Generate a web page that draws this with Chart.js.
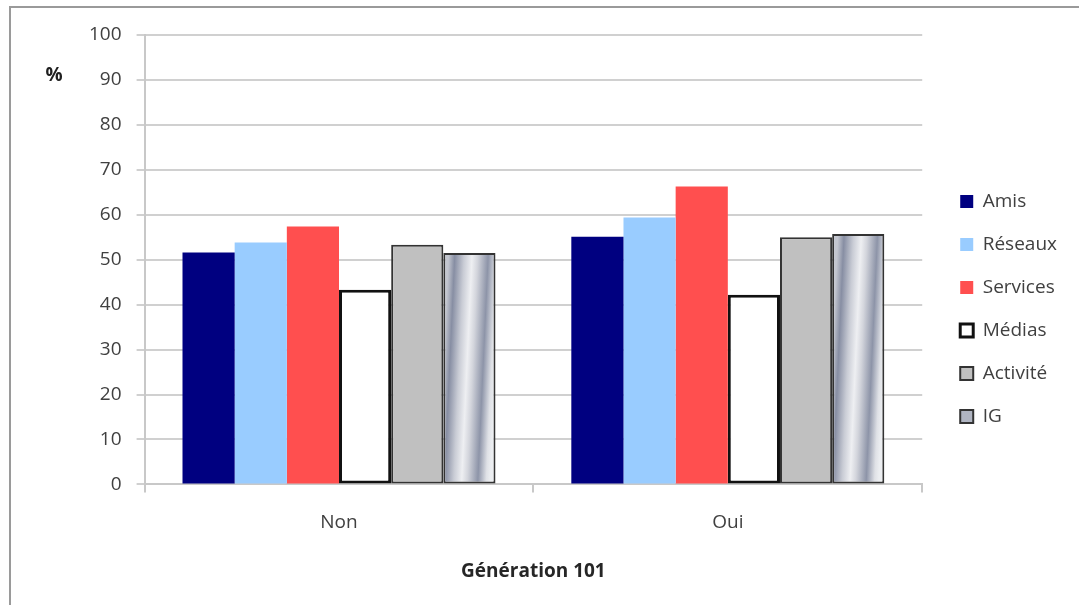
<!DOCTYPE html>
<html lang="fr">
<head>
<meta charset="utf-8">
<title>Génération 101</title>
<script src="https://cdn.jsdelivr.net/npm/chart.js@4.4.1/dist/chart.umd.min.js"></script>
<style>
  html, body { margin: 0; padding: 0; background: #fff; overflow: hidden; }
  #wrap { position: relative; width: 1079px; height: 605px; }
  #frame { position: absolute; left: 9px; top: 6px; width: 1200px; height: 800px;
           border: 2px solid #9a9a9a; box-sizing: border-box; pointer-events: none; }
  canvas { position: absolute; left: 0; top: 0; }
</style>
</head>
<body>
<div id="wrap">
  <canvas id="chart" width="1079" height="605"></canvas>
  <div id="frame"></div>
</div>
<script>
// Catégories et séries (en %)
const categories = ['Non', 'Oui'];
const seriesNames = ['Amis', 'Réseaux', 'Services', 'Médias', 'Activité', 'IG'];
const amis     = [51.6, 55.1];
const reseaux  = [53.8, 59.4];
const services = [57.4, 66.3];
const medias   = [43.3, 42.2];
const activite = [53.3, 55.0];
const ig       = [51.5, 55.7];
const yTicks   = [0, 10, 20, 30, 40, 50, 60, 70, 80, 90, 100];
const xTitle   = 'Génération 101';
const yUnit    = '%';

const FONT = "'Open Sans', 'Liberation Sans', sans-serif";
const TEXT = '#404040';
const CAT_PCT = 0.805;
const N_SERIES = seriesNames.length;
const LEGEND_GAP = 14;

// Dégradé métallique légèrement incliné pour la série IG, calé sur chaque barre
function metalGradient(ctx) {
  const chart = ctx.chart;
  const xs = chart.scales.x, ys = chart.scales.y;
  if (!xs || !ys || ctx.dataIndex === undefined || !chart.chartArea) return '#b4b8c4';
  const catW = xs.width / categories.length;
  const barW = catW * CAT_PCT / N_SERIES;
  const cx = xs.getPixelForValue(ctx.dataIndex) + (ctx.datasetIndex - (N_SERIES - 1) / 2) * barW;
  const left = cx - barW / 2, right = cx + barW / 2;
  const ymid = (ys.getPixelForValue(0) + ys.getPixelForValue(ctx.raw)) / 2;
  const g = chart.ctx.createLinearGradient(left, ymid - 1.2, right, ymid + 1.2);
  g.addColorStop(0.00, '#c3c6cf');
  g.addColorStop(0.12, '#878ea3');
  g.addColorStop(0.30, '#c9ccd5');
  g.addColorStop(0.45, '#eeeff2');
  g.addColorStop(0.56, '#d3d5dc');
  g.addColorStop(0.76, '#8d94a8');
  g.addColorStop(0.92, '#dfe1e6');
  g.addColorStop(1.00, '#eceef1');
  return g;
}

const styles = [
  { bg: '#000080', border: '#000080', bw: 0, skip: 'start' },
  { bg: '#99ccff', border: '#99ccff', bw: 0, skip: 'start' },
  { bg: '#ff4f4f', border: '#ff4f4f', bw: 0, skip: 'start' },
  { bg: '#ffffff', border: '#111111', bw: 3, skip: false },
  { bg: '#c0c0c0', border: '#333333', bw: 2, skip: false },
  { bg: metalGradient, border: '#333333', bw: 2, skip: false }
];
const values = [amis, reseaux, services, medias, activite, ig];

const datasets = seriesNames.map((name, i) => ({
  label: name,
  data: values[i],
  backgroundColor: styles[i].bg,
  borderColor: styles[i].border,
  borderWidth: styles[i].bw,
  borderSkipped: styles[i].skip,
  categoryPercentage: CAT_PCT,
  barPercentage: 1.0
}));

const legendFill = ['#000080', '#99ccff', '#ff4f4f', '#ffffff', '#c0c0c0', '#b0b5c2'];

// Unité de l'axe vertical, écrite horizontalement au-dessus
const unitLabel = {
  id: 'unitLabel',
  afterDraw(chart) {
    const c = chart.ctx;
    const ys = chart.scales.y;
    c.save();
    c.font = "bold 19px " + FONT;
    c.fillStyle = '#202020';
    c.textAlign = 'center';
    c.textBaseline = 'middle';
    c.fillText(yUnit, 54, ys.getPixelForValue(91));
    c.restore();
  }
};

// Écart supplémentaire entre la zone de tracé et la légende
const legendGap = {
  id: 'legendGap',
  beforeLayout(chart) {
    const lg = chart.legend;
    if (!lg || lg.__gap) return;
    const fit = lg.fit.bind(lg);
    lg.fit = function () { fit(); this.width += LEGEND_GAP; };
    const draw = lg.draw.bind(lg);
    lg.draw = function () {
      const c = this.ctx;
      c.save();
      c.translate(LEGEND_GAP, 0);
      draw();
      c.restore();
    };
    lg.__gap = true;
  }
};

new Chart(document.getElementById('chart'), {
  type: 'bar',
  data: { labels: categories, datasets },
  plugins: [unitLabel, legendGap],
  options: {
    responsive: false,
    animation: false,
    layout: { padding: { left: 74, top: 35, right: 12, bottom: 22 } },
    plugins: {
      tooltip: { enabled: false },
      legend: {
        position: 'right',
        align: 'center',
        labels: {
          font: { family: FONT, size: 19 },
          color: TEXT,
          boxWidth: 13,
          boxHeight: 13,
          padding: 24,
          generateLabels(chart) {
            return chart.data.datasets.map((ds, i) => ({
              text: ds.label,
              fillStyle: legendFill[i],
              strokeStyle: i < 3 ? legendFill[i] : (i === 3 ? '#111111' : '#333333'),
              lineWidth: i < 3 ? 0 : (i === 3 ? 3 : 2),
              fontColor: TEXT,
              hidden: false,
              datasetIndex: i
            }));
          }
        }
      }
    },
    scales: {
      x: {
        grid: {
          offset: true,
          drawOnChartArea: false,
          drawTicks: true,
          tickLength: 8,
          color: '#c8c8c8',
          lineWidth: 2
        },
        border: { color: '#c8c8c8', width: 2 },
        ticks: { font: { family: FONT, size: 19 }, color: TEXT, padding: 19 },
        title: {
          display: true,
          text: xTitle,
          font: { family: FONT, size: 19, weight: 'bold' },
          color: '#262626',
          padding: { top: 7, bottom: 0 }
        }
      },
      y: {
        min: 0,
        max: 100,
        afterBuildTicks(scale) { scale.ticks = yTicks.map(v => ({ value: v })); },
        grid: {
          color: '#d0d0d0',
          lineWidth: 2,
          drawTicks: true,
          tickLength: 8
        },
        border: { color: '#c8c8c8', width: 2 },
        ticks: { font: { family: FONT, size: 19 }, color: TEXT, padding: 15 }
      }
    }
  }
});
</script>
</body>
</html>
